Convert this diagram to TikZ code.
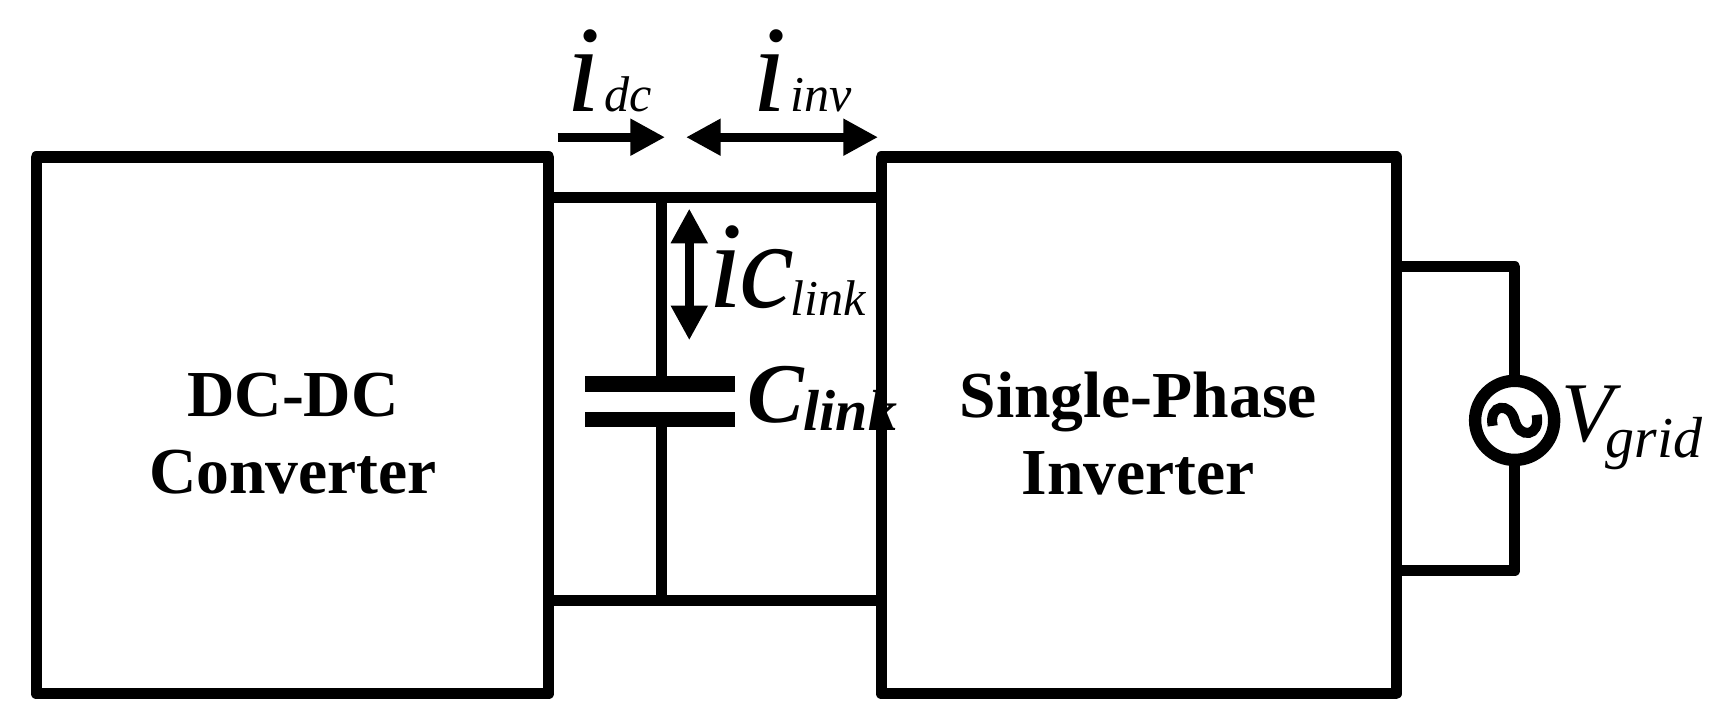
\documentclass[tikz,border=0pt]{standalone}
\usepackage{fontspec}
\setmainfont{Liberation Serif}
\usetikzlibrary{arrows.meta}
\begin{document}
\begin{tikzpicture}[x=0.01cm,y=-0.01cm,
  w/.style={line width=2.9pt, line join=round},
  arr/.style={line width=2.3pt,-{Triangle[length=9pt,width=9pt]}},
  darr/.style={line width=2.3pt,{Triangle[length=9pt,width=9pt]}-{Triangle[length=9pt,width=9pt]}},
  lbl/.style={font=\fontsize{17}{20}\selectfont\bfseries, align=center}]
\useasboundingbox (0,0) rectangle (1568,657);
\draw[w] (33,143) rectangle (500,632);
\draw[w] (803,143) rectangle (1272,632);
\node[lbl] (dct) at (267,395) {DC-DC\\Converter};
\node[lbl] (inv) at (1037,395) {Single-Phase\\Inverter};
\coordinate (t1) at (500,180); \coordinate (t2) at (803,180);
\coordinate (b1) at (500,547); \coordinate (b2) at (803,547);
\coordinate (ct) at (603,180); \coordinate (cb) at (603,547);
\coordinate (p1) at (603,350); \coordinate (p2) at (603,382);
\draw[w] (t1) -- (t2); \draw[w] (b1) -- (b2);
\draw[w] (ct) -- (p1); \draw[w] (p2) -- (cb);
\draw[line width=4pt] (533,350) -- (670,350);
\draw[line width=4pt] (533,382) -- (670,382);
\node[circle,draw,line width=3.2pt,minimum size=0.72cm,inner sep=0pt] (src) at (1380,383) {};
\draw[w] (1272,243) -- (1380,243) -- (src.north);
\draw[w] (src.south) -- (1380,520) -- (1272,520);
\draw[line width=2.6pt] (1360,388) .. controls (1356,368) and (1376,366) .. (1380,383) .. controls (1384,400) and (1404,398) .. (1400,378);
\node[anchor=west,font=\fontsize{22}{24}\selectfont\itshape,inner sep=0pt] (vg) at (1422,390) {V\kern-2pt\raisebox{-4pt}{\fontsize{15}{16}\selectfont grid}};
\coordinate (a1) at (508,125); \coordinate (a2) at (606,125);
\draw[arr] (a1) -- (a2);
\coordinate (a3) at (625,125); \coordinate (a4) at (800,125);
\draw[darr] (a3) -- (a4);
\coordinate (a5) at (628,190); \coordinate (a6) at (628,310);
\draw[darr] (a5) -- (a6);
\node[anchor=base west,inner sep=0pt] (idc) at (515,102) {\fontsize{32}{34}\selectfont\itshape i\kern1pt\fontsize{13}{14}\selectfont dc};
\node[anchor=base west,inner sep=0pt] (iinv) at (685,102) {\fontsize{32}{34}\selectfont\itshape i\kern1pt\fontsize{13}{14}\selectfont inv};
\node[anchor=base west,inner sep=0pt] (ic) at (645,280) {\fontsize{32}{34}\selectfont\itshape i\kern-1pt c\kern-1pt\raisebox{-2pt}{\fontsize{13}{14}\selectfont link}};
\node[anchor=base west,inner sep=0pt] (cl) at (680,385) {\fontsize{22}{24}\selectfont\bfseries\itshape C\raisebox{-2pt}{\fontsize{15}{16}\selectfont link}};
\end{tikzpicture}
\end{document}
